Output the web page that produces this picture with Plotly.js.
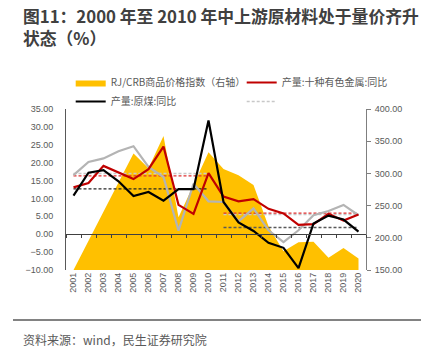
<!DOCTYPE html>
<html>
<head>
<meta charset="utf-8">
<script src="https://cdn.plot.ly/plotly-3.0.1.min.js"></script>
<style>
html,body{margin:0;padding:0;background:#fff;}
#chart{width:430px;height:356px;}
</style>
</head>
<body>
<div id="chart"></div>
<script>
var years = ['2001','2002','2003','2004','2005','2006','2007','2008','2009','2010',
             '2011','2012','2013','2014','2015','2016','2017','2018','2019','2020'];
var crbIndex = [150,196,241,286,331,308,358,232,282,333,307,297,282,218,179,193,194,169,184,168];
var nonferrousYoY = [13.1,14.3,19.1,17.2,15.4,18.2,24.5,8.2,5.7,17.1,10.5,9.2,9.8,7.1,5.8,2.6,2.8,5.7,3.8,5.5];
var coalYoY = [10.8,17.2,17.9,14.8,10.7,11.8,9.4,12.6,12.6,31.8,9.0,3.3,0.9,-2.4,-3.8,-9.5,3.0,5.2,4.1,0.7];
var greyYoY = [16.5,20.2,21.2,23.2,24.6,18.8,16.0,1.0,14.1,9.2,9.0,3.6,7.2,1.1,-2.2,1.1,5.3,6.5,8.2,5.3];
var period1 = years.slice(0,10);
var period2 = years.slice(10);
var avgGrey1 = 17.0, avgRed1 = 16.3, avgBlack1 = 12.7;
var avgGrey2 = 5.5,  avgRed2 = 5.9,  avgBlack2 = 1.9;

var names = {
  crb: 'RJ/CRB商品价格指数（右轴）',
  red: '产量:十种有色金属:同比',
  coal: '产量:原煤:同比'
};
var titleText = '图11：2000 年至 2010 年中上游原材料处于量价齐升<br>状态（%）';
var sourceText = '资料来源：wind，民生证券研究院';

function flat(xs, v){ return xs.map(function(){ return v; }); }

var dashStyle = '3px,2px';
var traces = [
  {x: years, y: crbIndex, yaxis: 'y2', xaxis: 'x', type: 'scatter', mode: 'lines',
   fill: 'tozeroy', fillcolor: '#FFC000', line: {color: '#FFC000', width: 0},
   name: names.crb, legendrank: 1, hoverinfo: 'skip'},
  {x: period1, y: flat(period1, avgGrey1), yaxis: 'y', type: 'scatter', mode: 'lines',
   line: {color: '#C8C8C8', width: 1.5, dash: dashStyle}, name: ' ', legendrank: 4},
  {x: period1, y: flat(period1, avgRed1), yaxis: 'y', type: 'scatter', mode: 'lines',
   line: {color: '#E03030', width: 1.3, dash: dashStyle}, showlegend: false},
  {x: period1, y: flat(period1, avgBlack1), yaxis: 'y', type: 'scatter', mode: 'lines',
   line: {color: '#262626', width: 1.3, dash: dashStyle}, showlegend: false},
  {x: period2, y: flat(period2, avgGrey2), yaxis: 'y', type: 'scatter', mode: 'lines',
   line: {color: '#C8C8C8', width: 1.5, dash: dashStyle}, showlegend: false},
  {x: period2, y: flat(period2, avgRed2), yaxis: 'y', type: 'scatter', mode: 'lines',
   line: {color: '#E03030', width: 1.3, dash: dashStyle}, showlegend: false},
  {x: period2, y: flat(period2, avgBlack2), yaxis: 'y', type: 'scatter', mode: 'lines',
   line: {color: '#595959', width: 1.5, dash: dashStyle}, showlegend: false},
  {x: years, y: greyYoY, yaxis: 'y', type: 'scatter', mode: 'lines',
   line: {color: '#B4B4B4', width: 2.2}, showlegend: false},
  {x: years, y: nonferrousYoY, yaxis: 'y', type: 'scatter', mode: 'lines',
   line: {color: '#C00000', width: 2.2}, name: names.red, legendrank: 2},
  {x: years, y: coalYoY, yaxis: 'y', xaxis: 'x2', type: 'scatter', mode: 'lines',
   line: {color: '#000000', width: 2.2}, name: names.coal, legendrank: 3}
];

var W = 430, H = 356, L = 66, R = 64, T = 109, B = 86;
var pw = W - L - R, ph = H - T - B;
function px(xp){ return (xp - L) / pw; }
function py(yp){ return (H - B - yp) / ph; }

var tickFont = {family: 'Liberation Sans, Noto Sans CJK SC, sans-serif', size: 9, color: '#595959'};

var layout = {
  width: W, height: H,
  margin: {l: L, r: R, t: T, b: B, pad: 0},
  paper_bgcolor: '#ffffff', plot_bgcolor: 'rgba(0,0,0,0)',
  font: {family: 'Noto Sans CJK SC, sans-serif', color: '#595959'},
  showlegend: true,
  legend: {
    orientation: 'h', x: -0.001, xanchor: 'left', y: py(68), yanchor: 'top',
    font: {family: 'Noto Sans CJK SC, sans-serif', size: 10, color: '#595959'},
    entrywidth: 121, entrywidthmode: 'pixels', itemwidth: 30, indentation: 5,
    bgcolor: 'rgba(0,0,0,0)', traceorder: 'normal', tracegroupgap: 0
  },
  xaxis: {
    type: 'category', categoryorder: 'array', categoryarray: years,
    range: [-0.5, 19.5], showline: false, ticks: '', showgrid: false, zeroline: false,
    tickangle: -90, tickfont: tickFont, fixedrange: true
  },
  xaxis2: {
    type: 'category', categoryorder: 'array', categoryarray: years,
    range: [-0.5, 19.5], overlaying: 'x', anchor: 'free', position: 10/45,
    showline: true, linecolor: '#404040', linewidth: 1,
    ticks: 'outside', tickson: 'boundaries', ticklen: 3, tickcolor: '#404040', tickwidth: 1,
    showticklabels: false, showgrid: false, zeroline: false
  },
  yaxis2: {
    range: [150, 400], dtick: 50, tick0: 150, tickformat: '.2f', side: 'right',
    showline: true, linecolor: '#7F7F7F', linewidth: 1, ticks: 'outside', ticklen: 4,
    tickcolor: '#7F7F7F', showgrid: false, zeroline: false, tickfont: tickFont,
    ticklabelstandoff: 2
  },
  yaxis: {
    range: [-10, 35], dtick: 5, tick0: -10, tickformat: '.2f', side: 'left',
    overlaying: 'y2',
    showline: true, linecolor: '#595959', linewidth: 1, ticks: '',
    showgrid: false, zeroline: false, tickfont: tickFont, ticklabelstandoff: 10
  },
  shapes: [
    {type: 'line', xref: 'paper', yref: 'paper', x0: px(13), x1: px(421), y0: py(320), y1: py(320),
     line: {color: '#595959', width: 1.5}}
  ],
  annotations: [
    {xref: 'paper', yref: 'paper', x: px(21), y: py(2), xanchor: 'left', yanchor: 'top',
     align: 'left', showarrow: false, text: titleText,
     font: {family: 'Noto Sans CJK SC, sans-serif', size: 16.8, color: '#404040', weight: 'bold'}},
    {xref: 'paper', yref: 'paper', x: px(21), y: py(339), xanchor: 'left', yanchor: 'middle',
     showarrow: false, text: sourceText,
     font: {family: 'Noto Sans CJK SC, sans-serif', size: 12, color: '#595959'}}
  ]
};

Plotly.newPlot('chart', traces, layout, {displayModeBar: false, staticPlot: true});
</script>
</body>
</html>
